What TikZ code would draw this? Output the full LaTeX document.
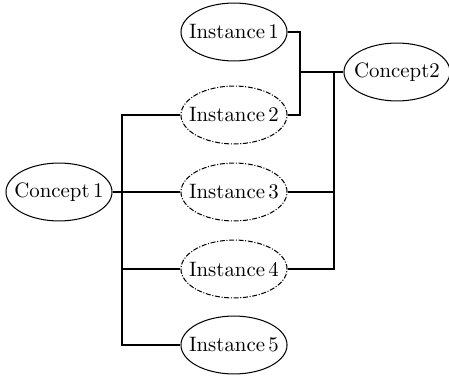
\documentclass[tikz,border=0pt]{standalone}
\usetikzlibrary{shapes.geometric}
% fixed-width label box so the ellipse size does not depend on the text
\newcommand{\ovlabel}[1]{\makebox[28pt]{#1}}
\begin{document}
\begin{tikzpicture}[x=0.48pt,y=0.48pt,
  concept/.style={draw,ellipse,line width=0.5pt,inner sep=0pt,minimum width=50.9pt,minimum height=27.8pt},
  known/.style={concept},
  guess/.style={concept,dash pattern=on 2.4pt off 0.8pt on 0.5pt off 0.8pt},
  link/.style={draw,line width=0.5pt}]
\useasboundingbox (0,0) rectangle (449,378);

% concepts
\node[concept] (c1) at (59,186) {\ovlabel{Concept\,1}};
\node[concept] (c2) at (397,306) {\ovlabel{Concept2}};

% instances
\node[known] (i1) at (234,346) {\ovlabel{Instance\,1}};
\node[guess] (i2) at (234,263) {\ovlabel{Instance\,2}};
\node[guess] (i3) at (234,186) {\ovlabel{Instance\,3}};
\node[guess] (i4) at (234,109) {\ovlabel{Instance\,4}};
\node[known] (i5) at (234,33) {\ovlabel{Instance\,5}};

% trunk positions
\coordinate (jl) at (122,0);
\coordinate (jr1) at (300,0);
\coordinate (jr2) at (334,0);

% Concept 1 to its instances
\draw[link] (c1.east) -- (c1.east -| jl);
\draw[link] (i2.west) -- (i2.west -| jl) -- (i5.west -| jl) -- (i5.west);
\draw[link] (i3.west) -- (i3.west -| jl);
\draw[link] (i4.west) -- (i4.west -| jl);

% Concept 2 to its instances
\draw[link] (i1.east) -- (i1.east -| jr1) -- (i2.east -| jr1) -- (i2.east);
\draw[link] (c2.west -| jr1) -- (c2.west);
\draw[link] (c2.west -| jr2) -- (i4.east -| jr2) -- (i4.east);
\draw[link] (i3.east) -- (i3.east -| jr2);
\end{tikzpicture}
\end{document}
